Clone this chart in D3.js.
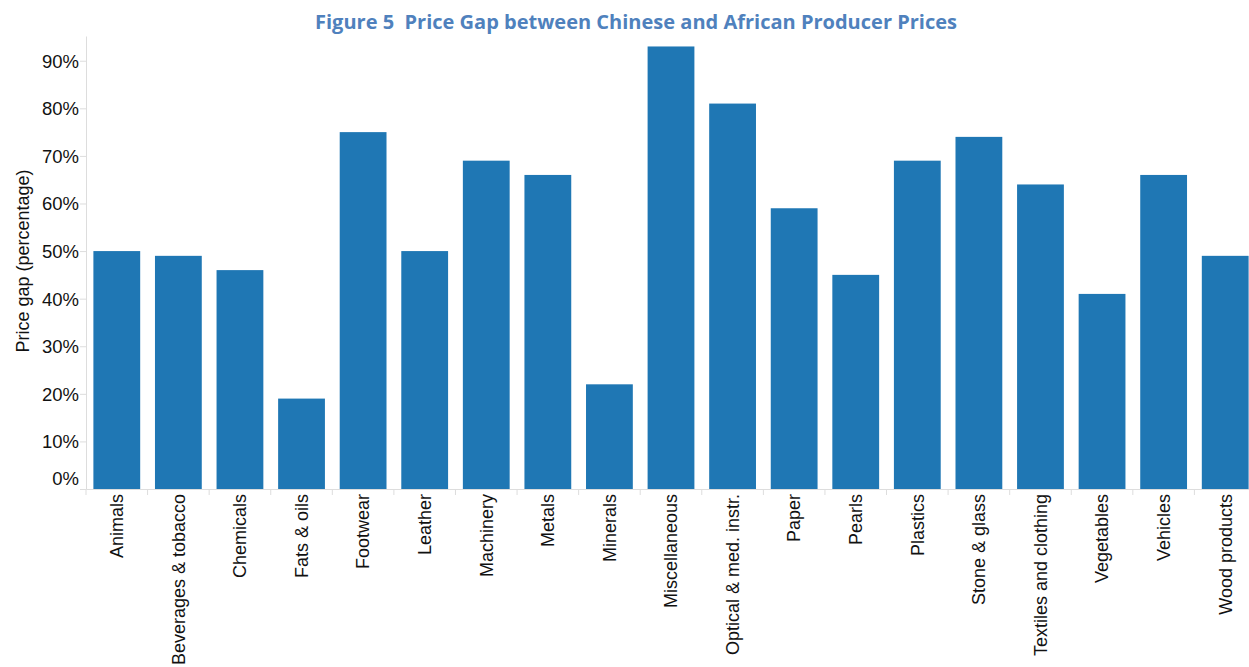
<!DOCTYPE html>
<html><head><meta charset="utf-8">
<script src="https://cdn.jsdelivr.net/npm/d3@7/dist/d3.min.js"></script>
<style>body{margin:0;background:#fff}svg{display:block}</style>
</head><body>
<svg id="c" width="1249" height="667"></svg>
<script>
const categories = ["Animals","Beverages & tobacco","Chemicals","Fats & oils","Footwear","Leather","Machinery","Metals","Minerals","Miscellaneous","Optical & med. instr.","Paper","Pearls","Plastics","Stone & glass","Textiles and clothing","Vegetables","Vehicles","Wood products"];
const values = [50,49,46,19,75,50,69,66,22,93,81,59,45,69,74,64,41,66,49];
const yTicks = [0,10,20,30,40,50,60,70,80,90];
const title = "Figure 5\u00a0\u00a0Price Gap between Chinese and African Producer Prices";
const yTitle = "Price gap (percentage)";

(function(){
const svg = d3.select("#c");
const mLeft = 86, mRight = 1256, mTop = 36, mBottom = 489;
const FF = "'Liberation Sans', Arial, sans-serif";
const x = d3.scaleBand().domain(categories).range([mLeft, mRight]).paddingInner(0.24).paddingOuter(0.12);
const y = d3.scaleLinear().domain([0, 95.2]).range([mBottom, mTop]);

svg.append("text").attr("x", 636).attr("y", 29).attr("text-anchor","middle")
  .attr("font-family","'Open Sans', sans-serif").attr("font-weight","bold").attr("font-size",19)
  .attr("fill","#4f81bd").attr("textLength",642).attr("lengthAdjust","spacingAndGlyphs").text(title);

svg.append("g").selectAll("rect").data(categories).join("rect")
  .attr("x", d => x(d)).attr("width", x.bandwidth())
  .attr("y", (d,i) => y(values[i])).attr("height", (d,i) => y(0) - y(values[i]))
  .attr("fill","#1f77b4");

const ya = svg.append("g").attr("transform",`translate(${mLeft},0)`)
  .call(d3.axisLeft(y).tickValues(yTicks).tickFormat(d => d + "%").tickSize(6).tickSizeOuter(0));
ya.select(".domain").attr("stroke","#ddd");
ya.selectAll(".tick line").attr("stroke","#ddd");
ya.selectAll(".tick text").attr("font-family",FF).attr("font-size",18.5).attr("fill","#111").attr("x",-7)
  .attr("dy", d => d === 0 ? "-0.25em" : "0.35em");

svg.append("text").attr("transform",`translate(29,261) rotate(-90)`).attr("text-anchor","middle")
  .attr("font-family",FF).attr("font-size",18).attr("fill","#111").text(yTitle);

const xa = svg.append("g").attr("transform",`translate(0,${mBottom})`)
  .call(d3.axisBottom(x).tickSize(0).tickSizeOuter(0));
xa.select(".domain").attr("stroke","#ddd");
xa.selectAll(".tick text").attr("font-family",FF).attr("font-size",18).attr("fill","#111")
  .attr("transform","rotate(-90)").attr("text-anchor","end").attr("x",-5).attr("y",0).attr("dy","0.35em");
xa.append("g").selectAll("line").data(categories.slice(1)).join("line")
  .attr("x1", d => x(d) - x.step()*x.paddingInner()/2).attr("x2", d => x(d) - x.step()*x.paddingInner()/2)
  .attr("y1",0).attr("y2",6).attr("stroke","#ddd");
xa.append("line").attr("x1",mLeft).attr("x2",mLeft).attr("y1",0).attr("y2",6).attr("stroke","#ddd");
})();
</script>
</body></html>
